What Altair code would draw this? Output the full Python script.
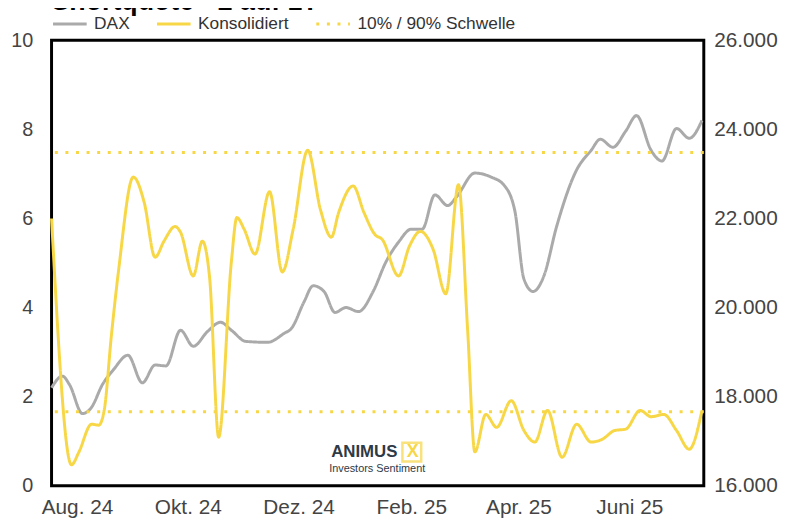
import altair as alt
import pandas as pd

TITLE = "Shortquote - 2 auf 1?"
SERIES = ["DAX", "Konsolidiert", "10% / 90% Schwelle"]

kons_dates = [
    "2024-07-18", "2024-07-29", "2024-08-02", "2024-08-09", "2024-08-13", "2024-08-16",
    "2024-08-20", "2024-08-24", "2024-09-01", "2024-09-07", "2024-09-13", "2024-09-18",
    "2024-09-24", "2024-09-27", "2024-10-04", "2024-10-09", "2024-10-13", "2024-10-18",
    "2024-10-25", "2024-10-28", "2024-11-01", "2024-11-07", "2024-11-15", "2024-11-22",
    "2024-11-28", "2024-12-06", "2024-12-13", "2024-12-19", "2024-12-23", "2024-12-31",
    "2025-01-06", "2025-01-12", "2025-01-16", "2025-01-25", "2025-01-31", "2025-02-06",
    "2025-02-13", "2025-02-20", "2025-02-27", "2025-03-04", "2025-03-08", "2025-03-14",
    "2025-03-20", "2025-03-28", "2025-04-04", "2025-04-10", "2025-04-17", "2025-04-25",
    "2025-05-03", "2025-05-11", "2025-05-17", "2025-05-24", "2025-05-30", "2025-06-07",
    "2025-06-13", "2025-06-20", "2025-06-27", "2025-07-04", "2025-07-11",
]
kons_values = [
    6.0, 0.47, 0.75, 1.38, 1.36, 1.7,
    3.4, 4.87, 6.93, 6.36, 5.13, 5.5,
    5.82, 5.69, 4.71, 5.49, 4.67, 1.09,
    5.04, 6.02, 5.76, 5.2, 6.6, 4.8,
    5.76, 7.53, 6.2, 5.58, 6.13, 6.73,
    6.13, 5.64, 5.53, 4.71, 5.38, 5.71,
    5.31, 4.31, 6.76, 3.51, 0.76, 1.6,
    1.31, 1.91, 1.24, 0.98, 1.69, 0.64,
    1.38, 0.98, 1.04, 1.24, 1.27, 1.69,
    1.55, 1.6, 1.24, 0.82, 1.69,
]

dax_dates = [
    "2024-07-18", "2024-07-24", "2024-07-28", "2024-08-04", "2024-08-09", "2024-08-15",
    "2024-08-21", "2024-08-29", "2024-09-06", "2024-09-13", "2024-09-19", "2024-09-27",
    "2024-10-04", "2024-10-12", "2024-10-19", "2024-10-25", "2024-11-02", "2024-11-14",
    "2024-11-23", "2024-11-27", "2024-12-04", "2024-12-09", "2024-12-15", "2024-12-21",
    "2024-12-27", "2025-01-03", "2025-01-11", "2025-01-18", "2025-01-25", "2025-02-01",
    "2025-02-07", "2025-02-14", "2025-02-21", "2025-02-26", "2025-03-08", "2025-03-17",
    "2025-03-24", "2025-03-30", "2025-04-04", "2025-04-09", "2025-04-15", "2025-04-22",
    "2025-05-03", "2025-05-11", "2025-05-16", "2025-05-23", "2025-05-30", "2025-06-05",
    "2025-06-13", "2025-06-19", "2025-06-27", "2025-07-04", "2025-07-11",
]
dax_values = [
    18200, 18460, 18260, 17620, 17760, 18270,
    18600, 18930, 18310, 18710, 18690, 19490,
    19130, 19470, 19670, 19490, 19240, 19220,
    19420, 19530, 20130, 20490, 20360, 19890,
    20000, 19910, 20360, 21020, 21470, 21760,
    21760, 22530, 22290, 22490, 23020, 22930,
    22750, 22170, 20640, 20360, 20710, 21820,
    23090, 23530, 23780, 23600, 23960, 24310,
    23530, 23290, 24020, 23800, 24200,
]

threshold_values = [1.66, 7.48]

left_ticks = [0, 2, 4, 6, 8, 10]
right_ticks = [16000, 18000, 20000, 22000, 24000, 26000]
month_names = ["Jan.", "Feb.", "März", "Apr.", "Mai", "Juni", "Juli", "Aug.", "Sep.", "Okt.", "Nov.", "Dez."]
x_ticks = [(2024, 8), (2024, 10), (2024, 12), (2025, 2), (2025, 4), (2025, 6)]

kons_df = pd.DataFrame({"date": [d + "T00:00:00" for d in kons_dates], "value": kons_values, "series": "Konsolidiert"})
dax_df = pd.DataFrame({"date": [d + "T00:00:00" for d in dax_dates], "value": dax_values, "series": "DAX"})
thr_df = pd.DataFrame({"value": threshold_values, "series": "10% / 90% Schwelle"})

YELLOW = "#f7d746"
GRAY = "#aaaaaa"
FONT = "Liberation Sans"

color_scale = alt.Scale(domain=SERIES, range=[GRAY, YELLOW, YELLOW])
dash_scale = alt.Scale(domain=SERIES, range=[[1, 0], [1, 0], [3, 7.7]])


def legend():
    return alt.Legend(
        title=None, orient="none", legendX=0, legendY=-35, direction="horizontal",
        symbolType="stroke", symbolSize=1156, symbolStrokeWidth=3,
        labelFontSize=17.5, labelColor="#333333", labelFont=FONT,
        labelOffset=6, columnPadding=21, padding=0,
    )


label_expr = (
    "[" + ",".join("'%s'" % m for m in month_names) + "][month(datum.value)]"
    " + ' ' + timeFormat(datum.value, '%y')"
)
x_axis = alt.Axis(
    values=[alt.DateTime(year=y, month=m, date=1) for y, m in x_ticks],
    labelExpr=label_expr, title=None, labelFontSize=21, labelColor="#444444",
    labelFont=FONT, labelPadding=11, ticks=False, domain=False, grid=False,
    labelFlush=False, labelOverlap=False,
)
x_scale = alt.Scale(domain=[alt.DateTime(year=2024, month=7, date=18),
                            alt.DateTime(year=2025, month=7, date=12)])
x_enc = alt.X("date:T", scale=x_scale, axis=x_axis)

color_enc = alt.Color("series:N", scale=color_scale, legend=legend())
dash_enc = alt.StrokeDash("series:N", scale=dash_scale, legend=legend())

dax_layer = alt.Chart(dax_df).mark_line(interpolate="monotone", strokeWidth=3).encode(
    x=x_enc,
    y=alt.Y("value:Q", scale=alt.Scale(domain=[16000, 26000], nice=False, zero=False),
            axis=alt.Axis(orient="right", values=right_ticks, title=None,
                          labelExpr="replace(format(datum.value, ',.0f'), ',', '.')",
                          labelFontSize=21, labelColor="#444444", labelFont=FONT,
                          labelPadding=10, ticks=False, domain=False, grid=False,
                          labelFlush=False)),
    color=color_enc,
    strokeDash=dash_enc,
)

kons_layer = alt.Chart(kons_df).mark_line(interpolate="monotone", strokeWidth=3).encode(
    x=x_enc,
    y=alt.Y("value:Q", scale=alt.Scale(domain=[0, 10], nice=False),
            axis=alt.Axis(orient="left", values=left_ticks, title=None,
                          labelFontSize=20, labelColor="#444444", labelFont=FONT,
                          labelPadding=19, ticks=False, domain=False, grid=False,
                          labelFlush=False)),
    color=color_enc,
    strokeDash=dash_enc,
)

thr_layer = alt.Chart(thr_df).mark_rule(strokeWidth=3).encode(
    y=alt.Y("value:Q"),
    color=color_enc,
    strokeDash=dash_enc,
)

title_layer = alt.Chart(pd.DataFrame({"t": [TITLE]})).mark_text(
    align="left", baseline="alphabetic", fontSize=27, fontWeight="bold",
    color="black", font=FONT,
).encode(x=alt.value(0), y=alt.value(-31), text="t:N")

logo_main = alt.Chart(pd.DataFrame({"t": ["ANIMUS"]})).mark_text(
    align="center", baseline="middle", fontSize=17, fontWeight="bold",
    color="#2e3a46", font=FONT,
).encode(x=alt.value(316), y=alt.value(416), text="t:N")

logo_box = alt.Chart(pd.DataFrame({"t": ["x"]})).mark_square(
    size=361, filled=False, stroke=YELLOW, strokeWidth=2.5,
).encode(x=alt.value(364), y=alt.value(416))

logo_x = alt.Chart(pd.DataFrame({"t": ["X"]})).mark_text(
    align="center", baseline="middle", fontSize=18, fontWeight="bold",
    color=YELLOW, font=FONT,
).encode(x=alt.value(365), y=alt.value(416), text="t:N")

logo_sub = alt.Chart(pd.DataFrame({"t": ["Investors Sentiment"]})).mark_text(
    align="center", baseline="middle", fontSize=11, color="#2e3a46", font=FONT,
).encode(x=alt.value(329), y=alt.value(433), text="t:N")

left_layer = alt.layer(kons_layer, thr_layer, title_layer, logo_main, logo_box, logo_x, logo_sub)

chart = alt.layer(dax_layer, left_layer).resolve_scale(y="independent").properties(
    width=659, height=450,
    padding={"left": 44, "top": 30, "right": 77, "bottom": 35},
    autosize=alt.AutoSizeParams(type="none"),
).configure_view(stroke="black", strokeWidth=3)

chart.save("out.html", embed_options={"renderer": "svg", "actions": False})
